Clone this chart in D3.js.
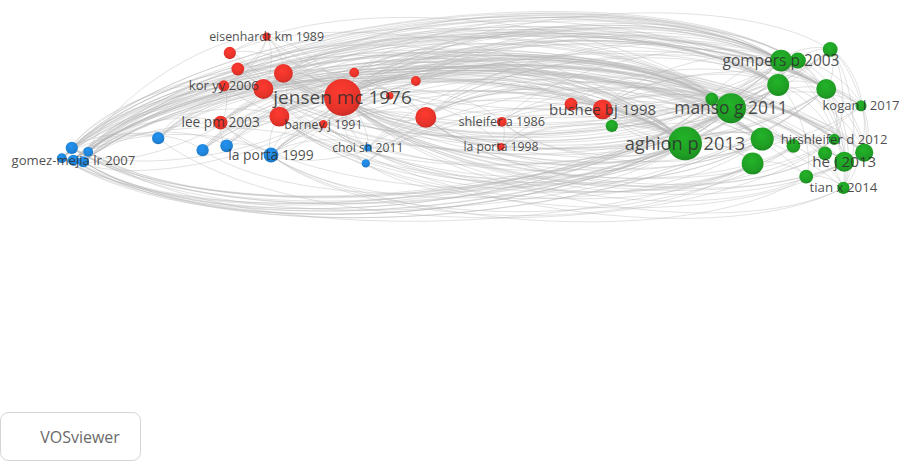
<!DOCTYPE html>
<html>
<head>
<meta charset="utf-8">
<script src="https://cdn.jsdelivr.net/npm/d3@7/dist/d3.min.js"></script>
<style>
  html, body { margin: 0; padding: 0; background: #fff; }
  svg { display: block; }
</style>
</head>
<body>
<svg id="map" width="901" height="463"></svg>
<script>
// Co-citation network: one entry per cited reference (layout coordinates, citation weight, cluster).
const nodeLabel = [
  "jensen mc 1976", "eisenhardt km 1989", "", "", "", "kor yy 2006", "", "", "", "", "",
  "lee pm 2003", "barney j 1991", "", "shleifer a 1986", "la porta 1998", "bushee bj 1998", "",
  "gomez-mejia lr 2007", "", "", "", "", "", "", "", "la porta 1999", "choi sh 2011", "",
  "aghion p 2013", "manso g 2011", "", "gompers p 2003", "", "", "", "", "kogan l 2017", "", "",
  "hirshleifer d 2012", "", "he j 2013", "", "", "", "tian x 2014", ""
];
const nodeX = [
  -0.306, -0.496, -0.588, -0.568, -0.454, -0.603, -0.504, -0.277, -0.123, -0.098, -0.464,
  -0.611, -0.354, -0.188, 0.092, 0.090, 0.344, 0.265,
  -0.979, -0.983, -0.942, -1.008, -0.954, -0.767, -0.656, -0.596, -0.485, -0.243, -0.248,
  0.550, 0.665, 0.617, 0.790, 0.832, 0.913, 0.783, 0.903, 0.990, 0.743, 0.719,
  0.923, 0.821, 0.948, 0.900, 0.998, 0.853, 0.946, 0.367
];
const nodeY = [
  0.019, 0.171, 0.130, 0.090, 0.079, 0.048, 0.040, 0.081, 0.060, -0.031, -0.029,
  -0.044, -0.048, 0.023, -0.042, -0.104, -0.011, 0.002,
  -0.138, -0.107, -0.117, -0.133, -0.142, -0.083, -0.113, -0.102, -0.125, -0.107, -0.146,
  -0.096, -0.008, 0.015, 0.111, 0.111, 0.139, 0.050, 0.040, -0.002, -0.085, -0.146,
  -0.086, -0.102, -0.142, -0.121, -0.119, -0.179, -0.207, -0.052
];
const nodeWeight = [
  100, 5, 11, 12, 26, 9, 29, 7, 7, 32, 29,
  14, 5, 4, 7, 4, 29, 12,
  9, 11, 7, 7, 9, 11, 11, 12, 16, 4, 5,
  84, 66, 12, 35, 19, 16, 35, 29, 9, 39, 35,
  9, 14, 29, 14, 24, 14, 11, 11
];
const nodeCluster = [
  1, 1, 1, 1, 1, 1, 1, 1, 1, 1, 1,
  1, 1, 1, 1, 1, 1, 1,
  2, 2, 2, 2, 2, 2, 2, 2, 2, 2, 2,
  3, 3, 3, 3, 3, 3, 3, 3, 3, 3, 3,
  3, 3, 3, 3, 3, 3, 3, 3
];

// Co-citation links as [from, to]; lines bow to the left of the from→to direction.
const linkPairs = [
  // within the red cluster
  [1,0],[2,0],[3,0],[4,0],[5,0],[6,0],[7,0],[8,0],[9,0],[10,0],[11,0],[12,0],[13,0],
  [1,4],[1,6],[2,6],[3,6],[4,6],[5,6],[5,11],[10,11],[6,10],[4,10],[1,3],[1,5],
  [0,14],[0,16],[0,17],[0,15],[9,16],[8,16],[4,9],[6,9],[10,9],[14,15],[14,16],[17,16],[13,9],
  [0,4],[0,6],[0,10],[16,17],
  // blue cluster and its ties to the red cluster
  [18,0],[19,0],[20,6],[21,4],[22,10],[18,11],[19,5],[20,1],[23,0],[23,6],[24,0],[25,0],
  [25,11],[26,0],[26,10],[27,0],[28,0],[26,9],[24,10],[18,26],[19,24],[20,23],[21,25],
  [22,27],[18,28],[26,27],[25,26],[0,18],[0,19],[6,21],[9,26],[0,26],[0,27],[18,19],[18,20],
  [21,22],[19,22],[20,21],
  // blue cluster towards the green cluster
  [18,32],[19,35],[20,37],[21,30],[22,29],[19,33],[18,36],[20,35],[21,44],[22,42],[19,40],
  [18,31],[20,38],[21,32],[22,36],[18,29],[19,30],[20,29],[21,35],[22,33],[18,42],[19,46],
  [20,41],[23,30],[23,32],[24,29],[24,35],[25,30],[26,29],[26,30],[26,32],[26,38],[27,29],
  [27,30],[28,29],[28,38],[25,36],[24,43],[21,37],[22,44],[18,40],
  [18,35],[19,32],[20,30],[21,29],[22,38],[19,36],[20,33],[22,30],[21,36],[18,38],[20,42],
  [21,40],[22,41],[18,44],[23,29],[23,35],[23,38],[24,30],[24,32],[25,29],[25,32],[26,35],
  [26,36],[27,32],[28,30],
  [32,18],[34,19],[33,20],[35,21],[36,22],[30,18],[31,19],[37,20],[32,21],[35,19],[30,22],
  [36,18],[41,26],[39,26],[40,23],[29,26],[30,24],[29,27],[38,28],
  [35,20],[31,18],[32,20],[33,21],[36,19],[30,21],[31,22],[35,22],[33,19],
  // red cluster towards the green cluster
  [0,29],[0,30],[0,32],[0,35],[0,38],[0,36],[0,33],[0,42],[2,30],[3,29],[4,29],[4,30],
  [5,30],[5,36],[6,29],[6,38],[6,32],[10,30],[10,29],[11,29],[11,32],[11,40],[12,30],
  [12,29],[9,29],[9,35],[9,30],[8,32],[8,29],[7,30],[13,29],[14,30],[14,29],[15,29],
  [15,39],[16,29],[16,30],[16,32],[16,38],[17,30],[17,35],[16,31],[16,47],[0,40],[0,44],
  [0,37],[10,35],[11,36],[9,44],
  [0,31],[0,34],[0,39],[0,41],[0,43],[0,45],[4,35],[6,30],[6,35],[10,32],[10,38],[11,30],
  [11,38],[12,32],[9,32],[9,38],[9,36],[8,30],[8,35],[7,29],[7,32],[13,30],[14,32],[15,30],
  [16,35],[16,36],[16,40],[17,29],[5,29],[3,30],[2,29],
  [29,0],[30,0],[32,0],[39,6],[42,10],[46,0],[45,11],[38,12],[29,11],[35,5],[36,3],
  [32,1],[29,1],[33,2],[35,3],[32,4],[34,7],[34,0],[36,6],[37,0],[30,10],[31,4],[38,9],
  [29,9],[30,16],[29,16],[32,16],[38,16],[41,0],[43,9],[44,0],[40,12],[30,6],[33,0],
  [29,4],[29,6],[29,10],[30,4],[30,9],[38,0],[39,0],[42,0],[43,0],[45,0],[46,6],[41,10],
  [44,9],[40,0],[38,10],[39,10],[29,12],[29,14],[38,14],[30,12],[35,0],[36,0],[31,0],
  [32,6],[33,4],[34,6],
  // within the green cluster
  [29,30],[30,32],[32,34],[32,35],[35,36],[36,37],[29,38],[38,41],[41,40],[40,42],[42,44],
  [43,42],[45,46],[39,45],[29,39],[30,35],[31,30],[33,34],[32,33],[34,36],[34,46],[32,42],
  [35,44],[30,40],[29,41],[38,43],[37,44],[36,40],[33,37],[30,46],[31,32],[47,30],[47,29],
  [33,46],[32,44],[34,44],[33,42],[29,42],[30,44],[29,36],[38,46],[35,45],[34,40],[37,46],
  [34,37],[32,46],[33,44],[36,46],[35,42],[30,37]
];

const clusterColor = { 1: "#e5332a", 2: "#1f82d6", 3: "#1f9e24" };

const svg = d3.select("#map");

const x = d3.scaleLinear().domain([-1, 1]).range([65, 865]);
const y = d3.scaleLinear().domain([-1, 1]).range([505, -295]);
const r = d3.scaleSqrt().domain([0, 100]).range([0, 18.5]);
const fontSize = d3.scaleSqrt().domain([0, 100]).range([10.5, 19]);

const nodes = nodeLabel.map((label, i) => ({
  label, px: x(nodeX[i]), py: y(nodeY[i]), w: nodeWeight[i], c: nodeCluster[i]
}));

// Shaded fill for each cluster colour
const defs = svg.append("defs");
Object.entries(clusterColor).forEach(([k, col]) => {
  const g = defs.append("radialGradient").attr("id", "grad" + k)
    .attr("cx", "45%").attr("cy", "35%").attr("r", "70%");
  g.append("stop").attr("offset", "0%").attr("stop-color", d3.color(col).brighter(0.35));
  g.append("stop").attr("offset", "70%").attr("stop-color", col);
  g.append("stop").attr("offset", "100%").attr("stop-color", d3.color(col).darker(0.45));
});

// Curved links: cubic curve whose control points sit a fifth of the way in from
// each end, pushed sideways so the curve peaks at ~0.117 of the chord length.
const along = 0.2, bulge = 0.117 / 0.75;
svg.append("g").attr("fill", "none")
  .attr("stroke", "#b7b7b7").attr("stroke-opacity", 0.4).attr("stroke-width", 1)
  .selectAll("path").data(linkPairs).join("path")
  .attr("d", ([s, t]) => {
    const a = nodes[s], b = nodes[t];
    const dx = b.px - a.px, dy = b.py - a.py;
    const ox = bulge * dy, oy = -bulge * dx;
    const p = d3.path();
    p.moveTo(a.px, a.py);
    p.bezierCurveTo(a.px + along * dx + ox, a.py + along * dy + oy,
                    b.px - along * dx + ox, b.py - along * dy + oy,
                    b.px, b.py);
    return p.toString();
  });

// Nodes, smaller ones drawn last
const order = d3.range(nodes.length).sort((a, b) => nodes[b].w - nodes[a].w);
svg.append("g").selectAll("circle").data(order.map(i => nodes[i])).join("circle")
  .attr("cx", d => d.px).attr("cy", d => d.py).attr("r", d => r(d.w))
  .attr("fill", d => `url(#grad${d.c})`);

// Labels centred on their nodes
svg.append("g").attr("font-family", "'Open Sans', 'Noto Sans', sans-serif")
  .attr("text-anchor", "middle").attr("fill", "#2e2e2e").attr("fill-opacity", 0.85)
  .selectAll("text").data(nodes.filter(d => d.label)).join("text")
  .attr("x", d => d.px).attr("y", d => d.py)
  .attr("dy", "0.35em")
  .attr("font-size", d => fontSize(d.w).toFixed(1) + "px")
  .text(d => d.label);

// Viewer badge
const badge = svg.append("g");
badge.append("rect").attr("x", 0.5).attr("y", 412.5).attr("width", 140).attr("height", 48)
  .attr("rx", 8).attr("fill", "#fff").attr("stroke", "#d4d4d4");
badge.append("text").attr("x", 80).attr("y", 437).attr("dy", "0.35em")
  .attr("text-anchor", "middle").attr("font-family", "'Open Sans', sans-serif")
  .attr("font-size", "16px").attr("fill", "#6a6a6a").text("VOSviewer");
</script>
</body>
</html>
